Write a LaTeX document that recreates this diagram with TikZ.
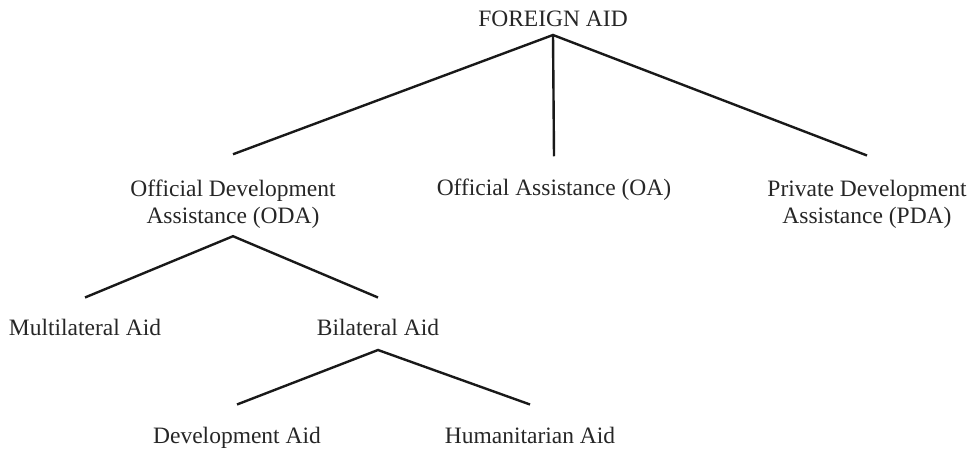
\documentclass[tikz,border=0pt]{standalone}
\usepackage{fontspec}
\setmainfont{Liberation Serif}

\tikzset{
  lbl/.style={inner sep=0pt, align=center, anchor=base, text=black!85,
    font=\fontsize{23.5}{27}\selectfont},
  branch/.style={line width=2.4pt, black!90}
}

\begin{document}
\begin{tikzpicture}[x=1pt,y=-1pt]
            \useasboundingbox (0,0) rectangle (976,449);
            \node[lbl] (aid) at (553,27) {FOREIGN AID};
            \node[lbl] (oda) at (233,223) {Official Development\\Assistance (ODA)};
            \node[lbl] (oa) at (554,196) {Official Assistance (OA)};
            \node[lbl] (pda) at (867,223) {Private Development\\Assistance (PDA)};
            \node[lbl] (multi) at (85,335) {Multilateral Aid};
            \node[lbl] (bi) at (378,335) {Bilateral Aid};
            \node[lbl] (dev) at (237,443) {Development Aid};
            \node[lbl] (hum) at (530,443) {Humanitarian Aid};

            \draw[branch] ([yshift=25pt]oda.north) -- ([yshift=-8pt]aid.base) -- ([yshift=24pt]pda.north);
            \draw[branch] ([yshift=-8pt]aid.base) -- ([yshift=23pt]oa.north);
            \draw[branch] ([yshift=21pt]multi.north) -- ([yshift=-8pt]oda.south) -- ([yshift=21pt]bi.north);
            \draw[branch] ([yshift=22pt]dev.north) -- ([yshift=-15pt]bi.base) -- ([yshift=22pt]hum.north);
        \end{tikzpicture}
\end{document}
